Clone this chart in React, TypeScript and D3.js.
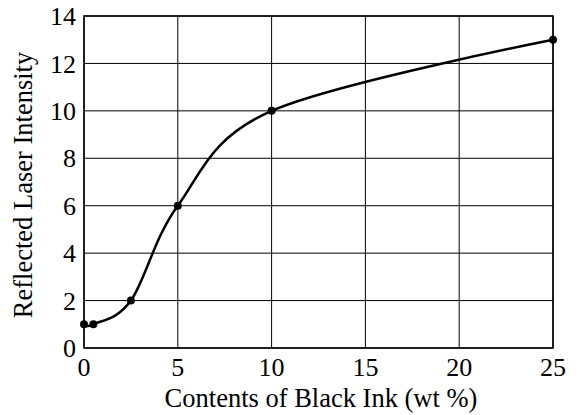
import React from "react";
import * as d3 from "d3";

const xValues = [0, 0.5, 2.5, 5, 10, 25];
const yValues = [1, 1, 2, 6, 10, 13];
const xTicks = [0, 5, 10, 15, 20, 25];
const yTicks = [0, 2, 4, 6, 8, 10, 12, 14];
const xTitle = "Contents of Black Ink (wt %)";
const yTitle = "Reflected Laser Intensity";

export default function App() {
  const W = 579, H = 415;
  const m = { left: 84, right: 553, top: 16, bottom: 348 };
  const x = d3.scaleLinear().domain([0, 25]).range([m.left, m.right]);
  const y = d3.scaleLinear().domain([0, 14]).range([m.bottom, m.top]);
  const pts: [number, number][] = xValues.map((v, i) => [v, yValues[i]]);
  const line = d3
    .line<[number, number]>()
    .x((d) => x(d[0]))
    .y((d) => y(d[1]))
    .curve(d3.curveCatmullRom.alpha(0));
  const fstyle = { fontFamily: "'Liberation Serif', 'DejaVu Serif', serif" };
  return (
    <svg width={W} height={H} style={{ position: "absolute", left: 0, top: 0 }}>
      <rect width={W} height={H} fill="#fff" />
      {xTicks.map((t) => (
        <line key={"gx" + t} x1={x(t)} x2={x(t)} y1={m.top} y2={m.bottom} stroke="#000" strokeWidth={1} />
      ))}
      {yTicks.map((t) => (
        <line key={"gy" + t} x1={m.left} x2={m.right} y1={y(t)} y2={y(t)} stroke="#000" strokeWidth={1} />
      ))}
      <rect x={m.left} y={m.top} width={m.right - m.left} height={m.bottom - m.top} fill="none" stroke="#000" strokeWidth={1.5} />
      <path d={line(pts) || ""} fill="none" stroke="#000" strokeWidth={2.5} />
      {pts.map((d, i) => (
        <circle key={i} cx={x(d[0])} cy={y(d[1])} r={4} fill="#000" />
      ))}
      {yTicks.map((t) => (
        <text key={"ly" + t} x={m.left - 8} y={y(t)} dy="0.35em" textAnchor="end" style={fstyle} fontSize={26} fill="#000">
          {t}
        </text>
      ))}
      {xTicks.map((t) => (
        <text key={"lx" + t} x={x(t)} y={m.bottom + 28} textAnchor="middle" style={fstyle} fontSize={26} fill="#000">
          {t}
        </text>
      ))}
      <text x={321} y={407} textAnchor="middle" style={fstyle} fontSize={26.5} fill="#000">
        {xTitle}
      </text>
      <text transform={`translate(32, ${185}) rotate(-90)`} textAnchor="middle" style={fstyle} fontSize={26.5} fill="#000">
        {yTitle}
      </text>
    </svg>
  );
}
